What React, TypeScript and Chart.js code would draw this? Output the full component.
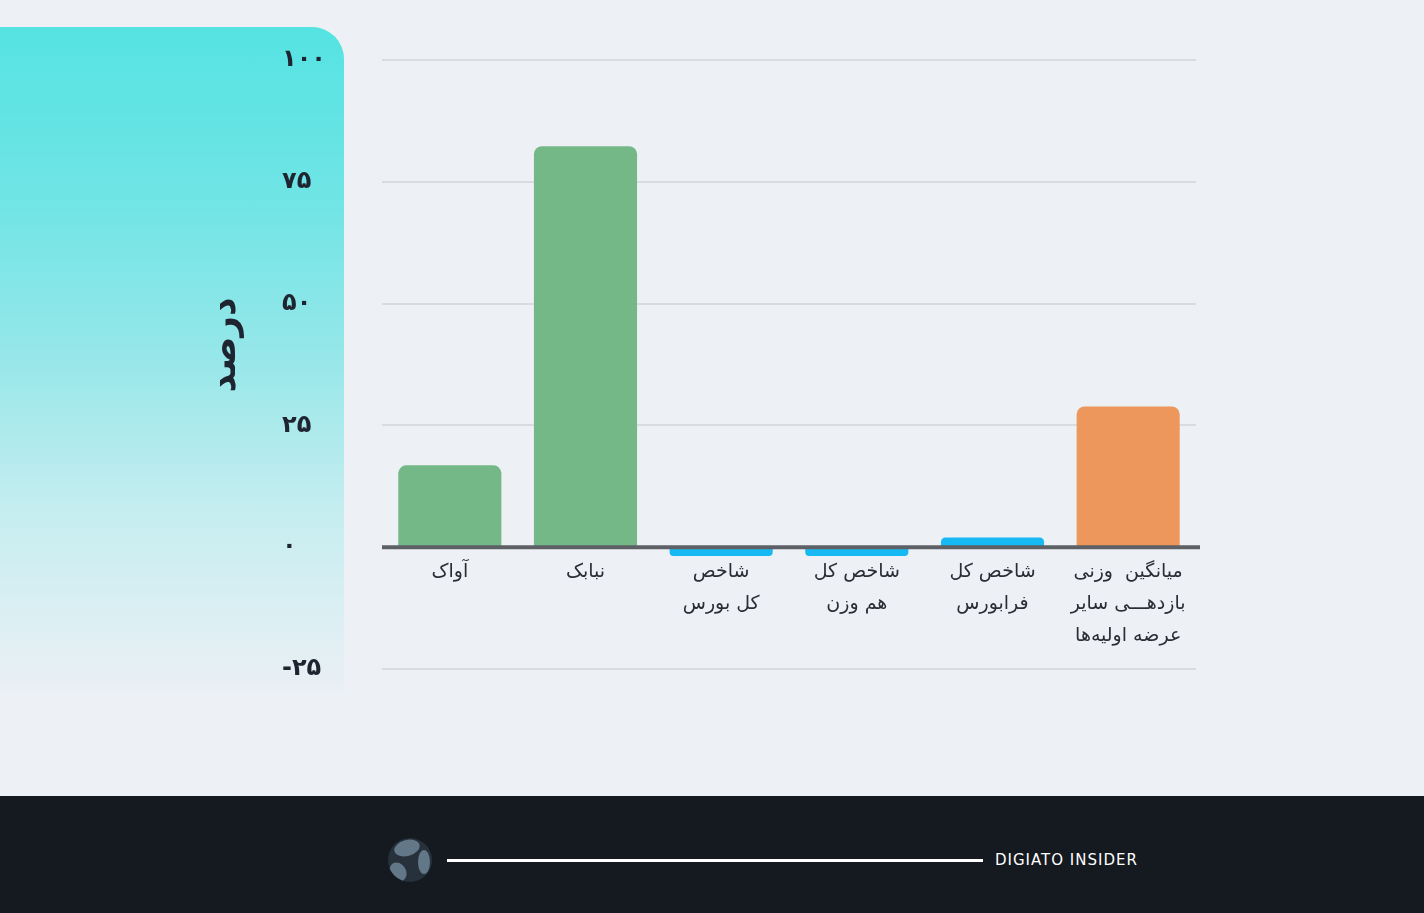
import React, { useEffect, useRef } from "react";
import { Chart, registerables } from "chart.js";

Chart.register(...registerables);

const categories: string[][] = [
  ["آواک"],
  ["نبابک"],
  ["شاخص", "کل بورس"],
  ["شاخص کل", "هم وزن"],
  ["شاخص کل", "فرابورس"],
  ["میانگین  وزنی", "بازدهـــی سایر", "عرضه اولیه‌ها"],
];
const returns: number[] = [16.8, 82.3, -1.8, -1.8, 2.0, 28.9];
const barColors: string[] = ["#75b887", "#75b887", "#17b9f2", "#17b9f2", "#17b9f2", "#ee975d"];
const yTickValues: number[] = [-25, 0, 25, 50, 75, 100];
const yTitle = "درصد";
const footerText = "DIGIATO INSIDER";

const toFa = (n: number) =>
  String(n).replace(/[0-9]/g, (d) => "۰۱۲۳۴۵۶۷۸۹"[Number(d)]);

const overlay = {
  id: "overlay",
  afterDatasetsDraw(chart: any) {
    const { ctx, chartArea, scales } = chart;
    const y0 = scales.y.getPixelForValue(0);
    ctx.save();
    // zero line
    ctx.strokeStyle = "#5d6065";
    ctx.lineWidth = 4;
    ctx.beginPath();
    ctx.moveTo(chartArea.left, y0);
    ctx.lineTo(chartArea.right + 4, y0);
    ctx.stroke();
    // category labels
    ctx.fillStyle = "#2a2d33";
    ctx.font = "19px 'DejaVu Sans'";
    ctx.textAlign = "center";
    ctx.textBaseline = "middle";
    categories.forEach((lines, i) => {
      const x = scales.x.getPixelForValue(i);
      lines.forEach((t, j) => {
        ctx.fillText(t, x, y0 + 25 + j * 32);
      });
    });
    // axis title
    ctx.translate(226, 345);
    ctx.rotate(-Math.PI / 2);
    ctx.font = "bold 36px 'DejaVu Sans'";
    ctx.fillStyle = "#1e2530";
    ctx.fillText(yTitle, 0, 0);
    ctx.restore();
  },
};

function ChartCanvas() {
  const ref = useRef<HTMLCanvasElement | null>(null);
  useEffect(() => {
    if (!ref.current) return;
    const chart = new Chart(ref.current, {
      type: "bar",
      data: {
        labels: categories.map((c) => c.join(" ")),
        datasets: [
          {
            data: returns,
            backgroundColor: barColors,
            borderRadius: 8,
            borderSkipped: "start",
            barPercentage: 0.76,
            categoryPercentage: 1,
          },
        ],
      },
      options: {
        responsive: false,
        animation: false,
        devicePixelRatio: 1,
        layout: { padding: { left: 282, right: 228, top: 60, bottom: 244 } },
        plugins: { legend: { display: false }, tooltip: { enabled: false } },
        scales: {
          x: { display: false },
          y: {
            min: -25,
            max: 100,
            afterFit: (s: any) => {
              s.width = 100;
            },
            afterBuildTicks: (s: any) => {
              s.ticks = yTickValues.map((v) => ({ value: v }));
            },
            border: { display: false },
            grid: {
              drawTicks: false,
              lineWidth: 2,
              color: (c: any) => (c.tick && c.tick.value === 0 ? "rgba(0,0,0,0)" : "#d8dbe0"),
            },
            ticks: {
              crossAlign: "far",
              color: "#1e2530",
              font: { family: "'DejaVu Sans'", size: 24, weight: "bold" },
              callback: (v: any) => toFa(Number(v)),
            },
          },
        },
      },
      plugins: [overlay],
    });
    return () => chart.destroy();
  }, []);
  return (
    <canvas
      ref={ref}
      width={1424}
      height={913}
      style={{ position: "absolute", left: 0, top: 0, width: 1424, height: 913 }}
    />
  );
}

export default function App() {
  return (
    <div
      style={{
        position: "fixed",
        left: 0,
        top: 0,
        width: 1424,
        height: 913,
        background: "#edf0f5",
        overflow: "hidden",
      }}
    >
      <div
        style={{
          position: "absolute",
          left: 0,
          top: 27,
          width: 344,
          height: 665,
          borderTopRightRadius: 32,
          background:
            "linear-gradient(180deg, #55e3e2 0%, #6fe4e5 25%, #97e7e9 50%, #c4edf0 72%, #dbeff3 88%, #eaeff4 100%)",
        }}
      />
      <div
        style={{
          position: "absolute",
          left: 0,
          top: 796,
          width: 1424,
          height: 117,
          background: "#151920",
        }}
      >
        <div
          style={{
            position: "absolute",
            left: 388,
            top: 42,
            width: 44,
            height: 44,
            borderRadius: "50%",
            background: "#27313b",
            overflow: "hidden",
          }}
        >
          <div style={{ position: "absolute", left: 6, top: 2, width: 26, height: 16, borderRadius: "50%", background: "#627888", transform: "rotate(-15deg)" }} />
          <div style={{ position: "absolute", left: 30, top: 12, width: 12, height: 24, borderRadius: "50%", background: "#627888" }} />
          <div style={{ position: "absolute", left: 2, top: 24, width: 16, height: 20, borderRadius: "50%", background: "#627888", transform: "rotate(-30deg)" }} />
        </div>
        <div
          style={{
            position: "absolute",
            left: 447,
            top: 63,
            width: 536,
            height: 3,
            background: "#ffffff",
          }}
        />
        <div
          style={{
            position: "absolute",
            left: 995,
            top: 55,
            fontFamily: "'DejaVu Sans'",
            fontSize: 15,
            fontWeight: 500,
            letterSpacing: 1.0,
            color: "#ffffff",
            lineHeight: "18px",
            whiteSpace: "nowrap",
          }}
        >
          {footerText}
        </div>
      </div>
      <ChartCanvas />
    </div>
  );
}
